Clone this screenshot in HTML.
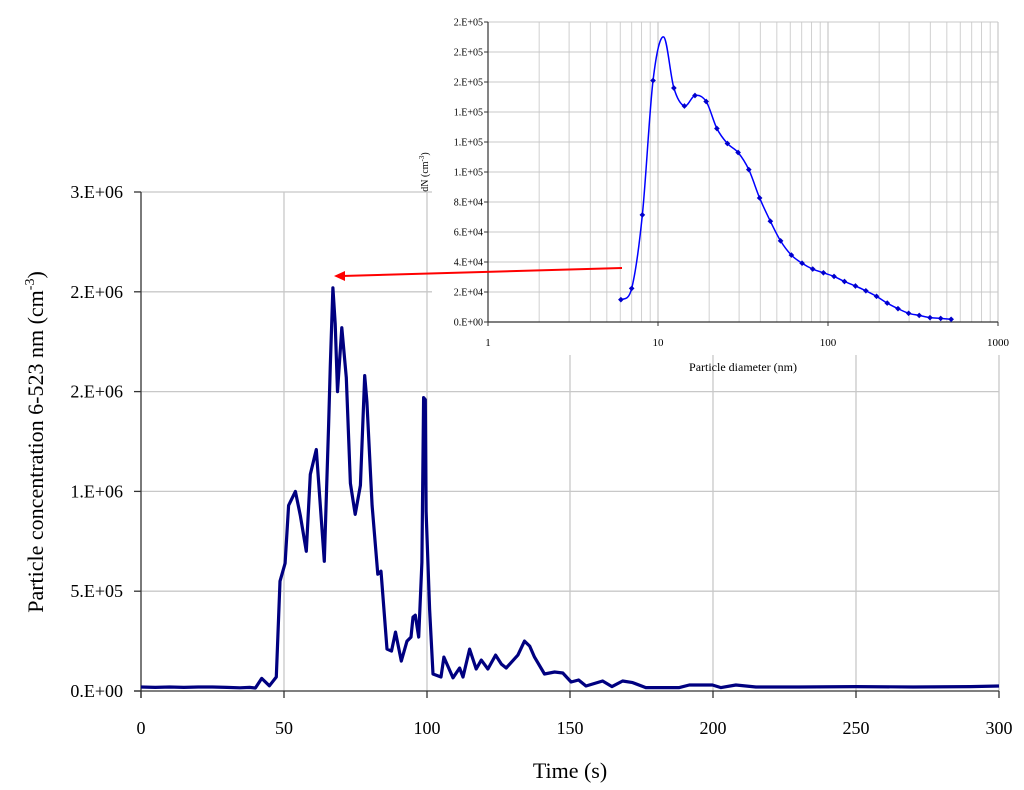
<!DOCTYPE html>
<html><head><meta charset="utf-8"><style>
html,body{margin:0;padding:0;background:#fff}
svg{display:block;font-family:"Liberation Serif",serif}
</style></head><body>
<svg id="c" width="1024" height="790" viewBox="0 0 1024 790" xmlns="http://www.w3.org/2000/svg"></svg>
<script>
// ---- main chart data ----
const mainT = [0,5,10,15,20,25,30,34.6,38,40,42.2,44.9,47.3,48.6,50.4,51.6,54,55.7,57.8,59.2,61.3,62.7,64.1,65.6,66.2,67.1,67.9,68.7,70.2,71.8,73.2,74.9,76.7,78.2,79,80.8,82.8,83.9,86,87.6,89,91,93,94.4,95.1,95.9,97.1,98.2,98.8,99.4,99.7,100.9,102.1,104.9,105.9,109.1,111.4,112.6,114.9,117.2,119,121.3,124,126,127.7,131.8,134.1,135.9,137.6,141.1,144.6,147.5,150.4,153,155.6,161.4,164.7,168.4,171.9,176.5,188.2,191.7,199.8,202.8,208,215,230,250,270,290,300];
const mainV = [0.02,0.018,0.02,0.018,0.02,0.02,0.018,0.016,0.018,0.015,0.063,0.026,0.07,0.55,0.64,0.93,1.00,0.88,0.70,1.085,1.21,0.93,0.65,1.33,1.63,2.02,1.84,1.50,1.82,1.57,1.04,0.885,1.03,1.58,1.45,0.93,0.585,0.60,0.21,0.20,0.295,0.15,0.25,0.27,0.37,0.38,0.27,0.645,1.47,1.46,0.90,0.41,0.085,0.07,0.17,0.066,0.115,0.07,0.21,0.11,0.155,0.11,0.18,0.135,0.115,0.18,0.25,0.225,0.17,0.085,0.095,0.09,0.045,0.055,0.025,0.05,0.022,0.05,0.042,0.017,0.017,0.03,0.03,0.017,0.03,0.02,0.02,0.022,0.02,0.022,0.025];
const mainXTicks = [0,50,100,150,200,250,300];
const mainYTicks = [0,0.5,1,1.5,2,2.5];
const mainYLabels = ["0.E+00","5.E+05","1.E+06","2.E+06","2.E+06","3.E+06"];
// ---- inset data ----
const insetD = [6.05,7.0,8.09,9.35,10.8,12.4,14.3,16.5,19.2,22.2,25.6,29.6,34.2,39.6,45.8,52.6,60.9,70.4,81.3,94,108.5,125,145,167,193,223,258,298,344,398,460,530];
const insetV = [14.9,22.4,71.4,161,190,156,144,151,147,129,119,113,101.6,82.7,67.2,54.1,44.6,39.2,35.3,32.8,30.4,27,24,20.8,17.1,12.6,8.9,5.8,4.4,2.9,2.4,1.8];
const insetYTicks = [0,20,40,60,80,100,120,140,160,180,200];
const insetYLabels = ["0.E+00","2.E+04","4.E+04","6.E+04","8.E+04","1.E+05","1.E+05","1.E+05","2.E+05","2.E+05","2.E+05"];
const insetXTicks = [1,10,100,1000];

const NS="http://www.w3.org/2000/svg";
const svg=document.getElementById('c');
function mk(tag,attrs,parent,text){const e=document.createElementNS(NS,tag);for(const k in attrs)e.setAttribute(k,attrs[k]);if(text!==undefined)e.textContent=text;(parent||svg).appendChild(e);return e;}

// main scales
const X0=141,X1=999,Y0=691,Y1=192;
const mx=t=>X0+(t-0)/(300)*(X1-X0);
const my=v=>Y0-v/2.5*(Y0-Y1);

// main grid
mainXTicks.forEach(t=>{ if(t>0){const l=mk('line',{x1:mx(t),x2:mx(t),y1:Y1,y2:Y0,stroke:'#c8c8c8','stroke-width':1.3});

}});
mainYTicks.forEach(v=>{ if(v>0){const l=mk('line',{x1:X0,x2:X1,y1:my(v),y2:my(v),stroke:'#c8c8c8','stroke-width':1.3});

}});
// axes
const ya=mk('line',{x1:X0,x2:X0,y1:Y1,y2:Y0+7,stroke:'#333','stroke-width':1.3});


const xa=mk('line',{x1:X0-7,x2:X1,y1:Y0,y2:Y0,stroke:'#333','stroke-width':1.3});


mainXTicks.forEach(t=>{
 const tk=mk('line',{x1:mx(t),x2:mx(t),y1:Y0,y2:Y0+7,stroke:'#333','stroke-width':1.3});
 
 
 const tx=mk('text',{x:mx(t),y:734,'font-size':18,'text-anchor':'middle',fill:'#000'},svg,String(t));
 
 
});
mainYTicks.forEach((v,i)=>{
 const tk=mk('line',{x1:X0-7,x2:X0,y1:my(v),y2:my(v),stroke:'#333','stroke-width':1.3});
 
 
 const tx=mk('text',{x:123,y:my(v)+6,'font-size':18,'text-anchor':'end',fill:'#000'},svg,mainYLabels[i]);
 
 
});
const xt=mk('text',{x:570,y:778,'font-size':22,'text-anchor':'middle'},svg,'Time (s)');


const yt=mk('text',{transform:'translate(43,442) rotate(-90)','font-size':22,'text-anchor':'middle'},svg);


yt.innerHTML='Particle concentration 6-523 nm (cm<tspan dy="-9" font-size="14">-3</tspan><tspan dy="9">)</tspan>';
// main line
const mp=mk('polyline',{points:mainT.map((t,i)=>mx(t).toFixed(1)+','+my(mainV[i]).toFixed(1)).join(' '),fill:'none',stroke:'#000080','stroke-width':3.2,'stroke-linejoin':'round'});



// ---- inset ----
const bg=mk('rect',{x:432,y:0,width:580,height:355,fill:'#fff'});


const IX0=488,IX1=998,IY0=322,IY1=22;
const ix=d=>IX0+Math.log10(d)/3*(IX1-IX0);
const iy=v=>IY0-v/200*(IY0-IY1);
for(let dec=1;dec<1000;dec*=10){for(let m=2;m<=10;m++){const d=dec*m;
 const l=mk('line',{x1:ix(d),x2:ix(d),y1:IY1,y2:IY0,stroke:m===10?'#bdbdbd':'#d0d0d0','stroke-width':1});
 
 }}
insetYTicks.forEach((v,i)=>{
 if(v>0){const l=mk('line',{x1:IX0,x2:IX1,y1:iy(v),y2:iy(v),stroke:'#c8c8c8','stroke-width':1});
 
 }
 const tk=mk('line',{x1:IX0-4,x2:IX0,y1:iy(v),y2:iy(v),stroke:'#333'});
 
 
 const tx=mk('text',{x:IX0-5,y:iy(v)+3.5,'font-size':10,'text-anchor':'end'},svg,insetYLabels[i]);
 
 
});
const iya=mk('line',{x1:IX0,x2:IX0,y1:IY1,y2:IY0,stroke:'#333','stroke-width':1.2});


const ixa=mk('line',{x1:IX0,x2:IX1,y1:IY0,y2:IY0,stroke:'#333','stroke-width':1.2});


insetXTicks.forEach(d=>{
 const tk=mk('line',{x1:ix(d),x2:ix(d),y1:IY0,y2:IY0+4,stroke:'#333'});
 
 
 const tx=mk('text',{x:ix(d),y:346,'font-size':11,'text-anchor':'middle'},svg,String(d));
 
 
});
const ixt=mk('text',{x:743,y:371,'font-size':12,'text-anchor':'middle'},svg,'Particle diameter (nm)');


const iyt=mk('text',{transform:'translate(428,172) rotate(-90)','font-size':10,'text-anchor':'middle'},svg);


iyt.innerHTML='dN (cm<tspan dy="-4" font-size="7">-3</tspan><tspan dy="4">)</tspan>';
// inset smooth line (Catmull-Rom)
const pts=insetD.map((d,i)=>[ix(d),iy(insetV[i])]);
let dstr='M'+pts[0][0]+','+pts[0][1];
for(let i=0;i<pts.length-1;i++){const p0=pts[i-1]||pts[i],p1=pts[i],p2=pts[i+1],p3=pts[i+2]||p2;
 dstr+=` C${p1[0]+(p2[0]-p0[0])/6},${p1[1]+(p2[1]-p0[1])/6} ${p2[0]-(p3[0]-p1[0])/6},${p2[1]-(p3[1]-p1[1])/6} ${p2[0]},${p2[1]}`;}
const il=mk('path',{d:dstr,fill:'none',stroke:'#0000ff','stroke-width':1.5});


pts.forEach((p,i)=>{ if(i===4)return;
 const m=mk('rect',{x:p[0]-2,y:p[1]-2,width:4,height:4,fill:'#0000cc',transform:`rotate(45 ${p[0]} ${p[1]})`});
 
 
});
// red arrow
const ar=mk('g',{});


mk('line',{x1:622,y1:268,x2:342,y2:276,stroke:'#ff0000','stroke-width':2},ar);
mk('polygon',{points:'334,276 345,271 345,281',fill:'#ff0000'},ar);
</script>
</body></html>
